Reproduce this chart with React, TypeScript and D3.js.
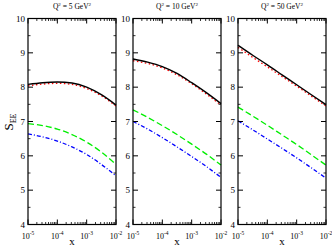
import * as d3 from 'd3';

// x sampled at half decades from 1e-5 to 1e-2
const xs = [1e-5, 10 ** -4.5, 1e-4, 10 ** -3.5, 1e-3, 10 ** -2.5, 1e-2];

const panelTitles = ['5', '10', '50'];

const blackSeries = [
  [8.08, 8.13, 8.15, 8.12, 8.0, 7.78, 7.48],
  [8.82, 8.73, 8.6, 8.4, 8.13, 7.84, 7.52],
  [9.22, 8.93, 8.65, 8.36, 8.07, 7.78, 7.49],
];
const redSeries = [
  [8.04, 8.09, 8.11, 8.08, 7.96, 7.75, 7.45],
  [8.77, 8.69, 8.56, 8.36, 8.1, 7.8, 7.48],
  [9.16, 8.87, 8.59, 8.31, 8.03, 7.74, 7.45],
];
const greenSeries = [
  [6.94, 6.88, 6.78, 6.62, 6.4, 6.11, 5.75],
  [7.34, 7.12, 6.88, 6.62, 6.34, 6.05, 5.73],
  [7.42, 7.16, 6.89, 6.61, 6.33, 6.03, 5.73],
];
const blueSeries = [
  [6.64, 6.55, 6.43, 6.26, 6.04, 5.75, 5.42],
  [7.0, 6.78, 6.53, 6.26, 5.98, 5.69, 5.37],
  [7.02, 6.76, 6.49, 6.22, 5.94, 5.65, 5.35],
];

const yTicks = [4, 5, 6, 7, 8, 9, 10];
const xTickExps = [-5, -4, -3, -2];

const panelLefts = [28, 133, 238];
const panelW = 88;
const top = 18.5;
const bottom = 224.5;

const font = 'Liberation Serif, Times New Roman, serif';

function Panel({ idx }: { idx: number }) {
  const x0 = panelLefts[idx];
  const x = d3.scaleLog().domain([1e-5, 1e-2]).range([x0, x0 + panelW]);
  const y = d3.scaleLinear().domain([4, 10]).range([bottom, top]);
  const line = (vals: number[]) =>
    d3
      .line<number>()
      .x((_, i) => x(xs[i]))
      .y((v) => y(v))
      .curve(d3.curveMonotoneX)(vals) || '';

  const minorX: number[] = [];
  for (let e = -5; e < -2; e++) for (let m = 2; m <= 9; m++) minorX.push(m * 10 ** e);
  const minorY = d3.range(4.5, 10, 1);

  const series = [
    { d: greenSeries[idx], color: '#00ee00', dash: '6,3' },
    { d: blueSeries[idx], color: '#0000ff', dash: '4,2,1,2' },
    { d: redSeries[idx], color: '#ff0000', dash: '1.5,2.5' },
    { d: blackSeries[idx], color: '#000000', dash: undefined },
  ];

  const cx = x0 + panelW / 2;
  return (
    <g>
      <text x={cx} y={9} textAnchor="middle" fontFamily={font} fontSize={7.5}>
        Q<tspan dy={-3} fontSize={5}>2</tspan>
        <tspan dy={3}> = {panelTitles[idx]} GeV</tspan>
        <tspan dy={-3} fontSize={5}>2</tspan>
      </text>
      {series.map((s, i) => (
        <path
          key={i}
          d={line(s.d)}
          fill="none"
          stroke={s.color}
          strokeWidth={s.dash ? 1.3 : 1.4}
          strokeDasharray={s.dash}
        />
      ))}
      {/* x ticks top & bottom */}
      {xTickExps.map((e) => (
        <g key={e}>
          <line x1={x(10 ** e)} x2={x(10 ** e)} y1={bottom} y2={bottom - 5} stroke="#000" strokeWidth={1} />
          <line x1={x(10 ** e)} x2={x(10 ** e)} y1={top} y2={top + 5} stroke="#000" strokeWidth={1} />
          <text x={x(10 ** e)} y={239} textAnchor="middle" fontFamily={font} fontSize={8}>
            10<tspan dy={-4} fontSize={5.5}>{e}</tspan>
          </text>
        </g>
      ))}
      {minorX.map((v, i) => (
        <g key={i}>
          <line x1={x(v)} x2={x(v)} y1={bottom} y2={bottom - 2.5} stroke="#000" strokeWidth={0.8} />
          <line x1={x(v)} x2={x(v)} y1={top} y2={top + 2.5} stroke="#000" strokeWidth={0.8} />
        </g>
      ))}
      {/* y ticks left & right */}
      {yTicks.map((t) => (
        <g key={t}>
          <line x1={x0} x2={x0 + 5} y1={y(t)} y2={y(t)} stroke="#000" strokeWidth={1} />
          <line x1={x0 + panelW} x2={x0 + panelW - 5} y1={y(t)} y2={y(t)} stroke="#000" strokeWidth={1} />
          <text x={x0 - 3} y={y(t) + 3} textAnchor="end" fontFamily={font} fontSize={9}>
            {t}
          </text>
        </g>
      ))}
      {minorY.map((t) => (
        <g key={t}>
          <line x1={x0} x2={x0 + 2.5} y1={y(t)} y2={y(t)} stroke="#000" strokeWidth={0.8} />
          <line x1={x0 + panelW} x2={x0 + panelW - 2.5} y1={y(t)} y2={y(t)} stroke="#000" strokeWidth={0.8} />
        </g>
      ))}
      <rect x={x0} y={top} width={panelW} height={bottom - top} fill="none" stroke="#000" strokeWidth={1.2} />
      <text x={cx} y={245} textAnchor="middle" fontFamily={font} fontSize={11}>
        x
      </text>
    </g>
  );
}

export default function App() {
  return (
    <svg width={332} height={247} style={{ position: 'absolute', left: 0, top: 0, background: '#fff' }}>
      <rect width={332} height={247} fill="#fff" />
      {[0, 1, 2].map((i) => (
        <Panel key={i} idx={i} />
      ))}
      <text transform="translate(13,122) rotate(-90)" textAnchor="middle" fontFamily={font} fontSize={13}>
        S<tspan dy={3} fontSize={8}>EE</tspan>
      </text>
    </svg>
  );
}
